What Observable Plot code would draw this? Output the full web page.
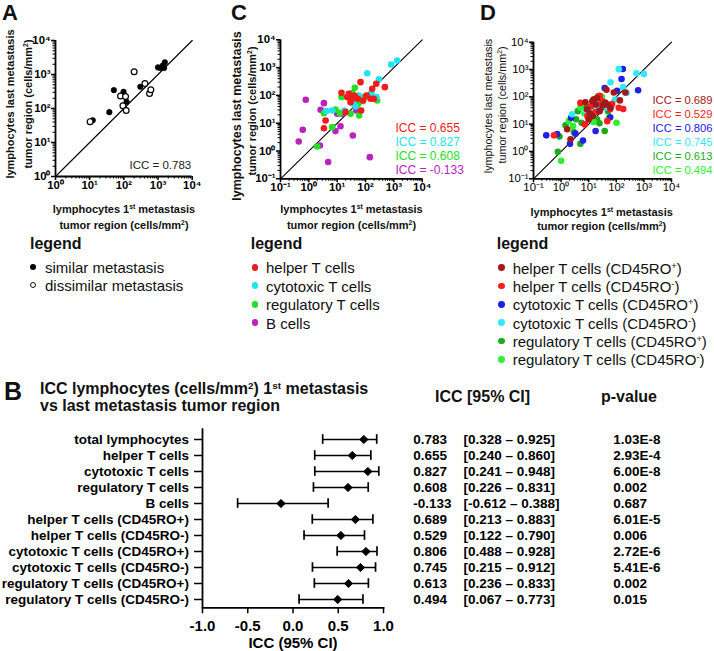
<!DOCTYPE html>
<html><head><meta charset="utf-8">
<script src="https://cdn.jsdelivr.net/npm/d3@7"></script>
<script src="https://cdn.jsdelivr.net/npm/@observablehq/plot@0.6"></script>
<style>
body{margin:0;background:#fff;}
#fig{position:relative;width:714px;height:651px;overflow:hidden;font-family:"Liberation Sans",Arial,Helvetica,sans-serif;color:#111;background:#fff;}
.t{position:absolute;white-space:nowrap;line-height:1;}
.p{position:absolute;}
.p svg{overflow:visible;max-width:none;}
.d{position:absolute;border-radius:50%;box-sizing:border-box;}
sup{font-size:0.62em;vertical-align:0.5em;line-height:0;}
</style></head><body><div id="fig"></div>
<script>
// ---------- DATA ----------
// Panel A: total lymphocytes, [1st metastasis, last metastasis] (cells/mm²)
const aSimilar = [[12.3,45],[37.6,78],[51,347],[98,310],[120,158],[303,436],[1000,1620],[1200,1550],[1380,1820],[1585,2290],[1510,1550]];
const aDissimilar = [[10.3,41],[200,1200],[80,232],[112,226],[94,121],[117,87],[414,540],[565,277],[617,355]];
const ticksA = [1, 10, 100, 1000, 10000];
const iccA = "ICC = 0.783";

// Panel C
const cHelper = [[14.2,124],[22.5,87],[25.8,114],[29.6,57],[33.8,75.5],[40.9,99.5],[53.6,75.5],[66.6,300],[70.3,28.7],[108,99.5],[150,75.5],[197,75.5],[172,173],[238,261],[481,198],[19.7,25],[3.4,6.6],[3.9,12.5],[82.7,65.8]];
const cCyto = [[805,1300],[1310,1800],[115,630],[296,381],[163,121],[6.7,28.7],[18.2,28.7],[58,99.5],[44.4,40],[4.2,27.2],[244,87],[36.7,50]];
const cReg = [[3.4,23],[6.7,7.2],[8.7,31.2],[29.6,21.8],[33.8,121],[48,65.8],[59.7,19],[76.3,62.2],[92,87],[258,65.8],[1.97,1.46],[42,187],[14.2,87],[12.4,23],[53.6,47.2],[25.8,87]];
const cB = [[0.78,69.5],[3.4,52.7],[2.6,30.3],[0.61,5.8],[0.44,2.2],[2.45,1.58],[4.8,0.40],[8.7,5.2],[13.1,7.8],[10,21.8],[15,21.8],[35.7,3.6],[46.9,28.7],[142,0.6],[11.5,23]];
const ticksCD = [0.1, 1, 10, 100, 1000, 10000];
const iccC = ["ICC = 0.655", "ICC = 0.827", "ICC = 0.608", "ICC = -0.133"];
const colorsC = ["#ee1c1c", "#22e2f2", "#22e022", "#bb22bb"];

// Panel D
const dHelperPos = [[44,182],[81,145],[214,145],[135,74],[7.6,63],[13.5,69],[18.6,52],[15.5,80],[8.7,35],[10,14.8],[13.5,19.5],[62,40],[47,52],[32,48],[1.66,6.5],[2.2,2.8],[25,30],[20,90],[40,62],[11,25]];
const dHelperNeg = [[123,40],[178,36],[5,60],[7.2,9.8],[47,12.9],[0.55,3.9],[15,80],[22,100],[30,70],[60,35],[12,45],[18,28],[9,20],[25,110],[70,55]];
const dCytoPos = [[173,1050],[155,447],[617,174],[38,210],[107,166],[11.7,32],[2.3,17],[0.29,3.9],[0.72,4.3],[2.1,1.9],[3.3,4.5],[6.2,2.5],[17.8,5.6],[25,40],[14,22],[60,18]];
const dCytoNeg = [[123,1030],[537,726],[1000,690],[62,340],[178,229],[234,138],[2.5,23],[13,35],[20,50],[30,75],[45,40],[16,60],[8,30],[90,80],[35,55]];
const dRegPos = [[0.87,3.5],[1.45,9.1],[2.9,5.1],[5,1.9],[5.5,11.2],[0.76,0.98],[24.5,10.7],[38,5.6],[12,22],[3.5,15],[8,40],[20,15],[50,30],[4,30]];
const dRegNeg = [[1.9,13],[1.0,0.46],[102,11.2],[54,17],[22,104],[2.7,8.5],[30,100],[7,25],[15,12],[70,55],[10,18],[5,40]];
const iccD = ["ICC = 0.689", "ICC = 0.529", "ICC = 0.806", "ICC = 0.745", "ICC = 0.613", "ICC = 0.494"];
const colorsD = ["#a31818", "#ff1e1e", "#2020e6", "#30e8f8", "#1eaa1e", "#30ee30"];

// Panel B
const forestNames = ["total lymphocytes","helper T cells","cytotoxic T cells","regulatory T cells","B cells","helper T cells (CD45RO+)","helper T cells (CD45RO-)","cytotoxic T cells (CD45RO+)","cytotoxic T cells (CD45RO-)","regulatory T cells (CD45RO+)","regulatory T cells (CD45RO-)"];
const forestIcc = [0.783, 0.655, 0.827, 0.608, -0.133, 0.689, 0.529, 0.806, 0.745, 0.613, 0.494];
const forestLo = [0.328, 0.240, 0.241, 0.226, -0.612, 0.213, 0.122, 0.488, 0.215, 0.236, 0.067];
const forestHi = [0.925, 0.860, 0.948, 0.831, 0.388, 0.883, 0.790, 0.928, 0.912, 0.833, 0.773];
const forestP = ["1.03E-8","2.93E-4","6.00E-8","0.002","0.687","6.01E-5","0.006","2.72E-6","5.41E-6","0.002","0.015"];
const iccTicks = [-1, -0.5, 0, 0.5, 1];

// ---------- HELPERS ----------
const FONT = '"Liberation Sans", Arial, Helvetica, sans-serif';
const fig = document.getElementById("fig");
function place(node, left, top) {
  const w = document.createElement("div");
  w.className = "p"; w.style.left = left + "px"; w.style.top = top + "px";
  w.appendChild(node); fig.appendChild(w);
}
function txt(html, x, y, o = {}) {
  const {size = 11, weight = "bold", anchor = "start", rotate = 0, color = "#111"} = o;
  const d = document.createElement("div");
  d.className = "t"; d.innerHTML = html;
  const tx = anchor === "middle" ? "-50%" : anchor === "end" ? "-100%" : "0";
  d.style.left = x + "px"; d.style.top = y + "px";
  d.style.fontSize = size + "px"; d.style.fontWeight = weight; d.style.color = color;
  d.style.transform = `translate(${tx},-50%)` + (rotate ? ` rotate(${rotate}deg)` : "");
  fig.appendChild(d);
}
function dotKey(x, y, color, r = 3.3, hollow = false) {
  const d = document.createElement("div");
  d.className = "d";
  d.style.left = (x - r) + "px"; d.style.top = (y - r) + "px";
  d.style.width = 2 * r + "px"; d.style.height = 2 * r + "px";
  if (hollow) { d.style.background = "#fff"; d.style.border = "1.2px solid #111"; }
  else d.style.background = color;
  fig.appendChild(d);
}
const supMap = {"-": "⁻", "0": "⁰", "1": "¹", "2": "²", "3": "³", "4": "⁴"};
const pow10 = d => "10" + String(Math.round(Math.log10(d))).split("").map(c => supMap[c]).join("");

function scatter({groups, ticks, width, height, ml, mr, mt, mb, weight, labels}) {
  const dom = [ticks[0], ticks[ticks.length - 1]];
  const minors = ticks.slice(0, -1).flatMap(t => [2,3,4,5,6,7,8,9].map(k => k * t));
  return Plot.plot({
    width, height, marginLeft: ml, marginRight: mr, marginTop: mt, marginBottom: mb,
    x: {type: "log", domain: dom}, y: {type: "log", domain: dom},
    style: {fontFamily: FONT, fontSize: "11.3px", fontWeight: weight, color: "#000", background: "transparent", overflow: "visible"},
    marks: [
      Plot.line(dom, {x: d => d, y: d => d, stroke: "#000", strokeWidth: 1.1}),
      ...groups.map(g => Plot.dot(g.data, {x: d => d[0], y: d => d[1], r: g.r, fill: g.fill, stroke: g.stroke, strokeWidth: g.sw || 0})),
      Plot.ruleX([dom[0]], {strokeWidth: 1.8}),
      Plot.ruleY([dom[0]], {strokeWidth: 1.8}),
      Plot.axisX(minors, {tickSize: 2.5, tickFormat: () => "", strokeWidth: 1, label: null}),
      Plot.axisY(minors, {tickSize: 2.5, tickFormat: () => "", strokeWidth: 1, label: null}),
      Plot.axisX(ticks, {tickSize: 4, tickPadding: 0, tickFormat: pow10, strokeWidth: 1.5, label: null}),
      Plot.axisY(ticks, {tickSize: 4, tickPadding: 1, tickFormat: pow10, strokeWidth: 1.5, label: null}),
      ...labels.map(l => Plot.text([l.text], {frameAnchor: l.frameAnchor, textAnchor: l.textAnchor, lineAnchor: "middle",
        dx: l.dx, dy: l.dy, fill: l.color, fontSize: l.size, fontWeight: "normal"}))
    ]
  });
}

// ---------- PANEL A ----------
place(scatter({
  groups: [
    {data: aSimilar, r: 2.8, fill: "#000", stroke: "#000", sw: 0.5},
    {data: aDissimilar, r: 2.9, fill: "#fff", stroke: "#000", sw: 1.2}
  ],
  ticks: ticksA, width: 230, height: 200, ml: 55, mr: 38.3, mt: 40, mb: 24, weight: "bold",
  labels: [{text: iccA, frameAnchor: "bottom-right", textAnchor: "end", dx: -1, dy: -11, color: "#222", size: 11.5}]
}), 0, 0);

// ---------- PANEL C ----------
place(scatter({
  groups: [
    {data: cB, r: 3.3, fill: colorsC[3]},
    {data: cReg, r: 3.3, fill: colorsC[2]},
    {data: cCyto, r: 3.3, fill: colorsC[1]},
    {data: cHelper, r: 3.3, fill: colorsC[0]}
  ],
  ticks: ticksCD, width: 230, height: 205, ml: 50, mr: 38.3, mt: 39.3, mb: 26.7, weight: "bold",
  labels: iccC.map((t, i) => ({text: t, frameAnchor: "top-left", textAnchor: "start", dx: 115, dy: 88 + 14 * i, color: colorsC[i], size: 12}))
}), 230, 0);

// ---------- PANEL D ----------
place(scatter({
  groups: [
    {data: dRegPos, r: 3.3, fill: colorsD[4]},
    {data: dRegNeg, r: 3.3, fill: colorsD[5]},
    {data: dCytoPos, r: 3.3, fill: colorsD[2]},
    {data: dCytoNeg, r: 3.3, fill: colorsD[3]},
    {data: dHelperNeg, r: 3.3, fill: colorsD[1]},
    {data: dHelperPos, r: 3.3, fill: colorsD[0]}
  ],
  ticks: ticksCD, width: 254, height: 205, ml: 73, mr: 43, mt: 41.7, mb: 26.7, weight: "normal",
  labels: iccD.map((t, i) => ({text: t, frameAnchor: "top-left", textAnchor: "start", dx: 119, dy: 58.3 + 13.9 * i, color: colorsD[i], size: 11.2}))
}), 460, 0);

// ---------- PANEL B (forest) ----------
const forestRows = forestNames.map((name, i) => ({name, icc: forestIcc[i], lo: forestLo[i], hi: forestHi[i], p: forestP[i]}));
place(Plot.plot({
  width: 714, height: 231, marginLeft: 202, marginRight: 331, marginTop: 8.3, marginBottom: 43.7,
  x: {domain: [iccTicks[0], iccTicks[iccTicks.length - 1]]},
  y: {type: "band", domain: forestNames, range: [8.3, 189.3], padding: 0},
  style: {fontFamily: FONT, fontSize: "13.5px", fontWeight: "bold", color: "#000", background: "transparent", overflow: "visible"},
  marks: [
    Plot.ruleX([iccTicks[0]], {strokeWidth: 1.8}),
    Plot.frame({anchor: "bottom", strokeWidth: 1.8}),
    Plot.axisY({tickSize: 8, tickPadding: 5.5, strokeWidth: 1.5, label: null}),
    Plot.axisX(iccTicks, {tickSize: 6, tickPadding: 6.5, tickFormat: d => d.toFixed(1), fontSize: 15, strokeWidth: 1.5, label: null}),
    Plot.ruleY(forestRows, {y: "name", x1: "lo", x2: "hi", strokeWidth: 1.7}),
    Plot.tickX(forestRows, {x: "lo", y: "name", insetTop: 3.2, insetBottom: 3.2, strokeWidth: 1.7}),
    Plot.tickX(forestRows, {x: "hi", y: "name", insetTop: 3.2, insetBottom: 3.2, strokeWidth: 1.7}),
    Plot.dot(forestRows, {x: "icc", y: "name", symbol: "diamond2", r: 3.7, fill: "#000", stroke: "#000", strokeWidth: 1}),
    Plot.text(["ICC (95% CI)"], {frameAnchor: "bottom", lineAnchor: "middle", dy: 35.2, fontSize: 15}),
    Plot.text(forestRows, {y: "name", text: d => d.icc.toFixed(3), frameAnchor: "right", textAnchor: "start", dx: 29.7}),
    Plot.text(forestRows, {y: "name", text: d => `[${d.lo.toFixed(3)} – ${d.hi.toFixed(3)}]`, frameAnchor: "right", textAnchor: "start", dx: 80}),
    Plot.text(forestRows, {y: "name", text: d => d.p, frameAnchor: "right", textAnchor: "start", dx: 229.7})
  ]
}), 0, 420);

// ---------- TEXT ----------
txt("A", 2, 12.8, {size: 22});
txt("C", 231, 12.8, {size: 22});
txt("D", 480, 12.8, {size: 22});
txt("B", 4, 391, {size: 25});

const xt1 = "lymphocytes 1<sup>st</sup> metastasis";
const xt2 = "tumor region (cells/mm<sup>2</sup>)";
const yt1 = "lymphocytes last metastasis";
// A
txt(xt1, 124, 209.4, {anchor: "middle"});
txt(xt2, 124, 225, {anchor: "middle"});
txt(yt1, 9.5, 104, {anchor: "middle", rotate: -90});
txt(xt2, 27.5, 104, {anchor: "middle", rotate: -90});
// C
txt(xt1, 351.5, 209.4, {anchor: "middle"});
txt(xt2, 351.5, 225, {anchor: "middle"});
txt(yt1, 237, 116, {anchor: "middle", rotate: -90, size: 12.5});
txt(xt2, 251.5, 111, {anchor: "middle", rotate: -90});
// D
txt(xt1, 601.7, 211.5, {anchor: "middle"});
txt(xt2, 601.7, 226, {anchor: "middle"});
txt(yt1, 488, 106, {anchor: "middle", rotate: -90, size: 10.8, weight: "normal"});
txt(xt2, 502, 105, {anchor: "middle", rotate: -90, size: 10.8, weight: "normal"});

// Legends
txt("legend", 30, 243.5, {size: 16});
dotKey(33.3, 266.7, "#000", 3);
dotKey(33.3, 285, "#000", 3, true);
txt("similar metastasis", 45, 266.5, {size: 15, weight: "normal"});
txt("dissimilar metastasis", 45, 284.8, {size: 15, weight: "normal"});

const legendC = ["helper T cells", "cytotoxic T cells", "regulatory T cells", "B cells"];
txt("legend", 250.7, 243.5, {size: 16});
legendC.forEach((s, i) => {
  const y = 267.3 + 18.45 * i;
  dotKey(255, y, colorsC[i], 3.4);
  txt(s, 266, y, {size: 15, weight: "normal"});
});

const legendD = ["helper T cells (CD45RO<sup>+</sup>)", "helper T cells (CD45RO<sup>-</sup>)", "cytotoxic T cells (CD45RO<sup>+</sup>)", "cytotoxic T cells (CD45RO<sup>-</sup>)", "regulatory T cells (CD45RO<sup>+</sup>)", "regulatory T cells (CD45RO<sup>-</sup>)"];
txt("legend", 496.7, 244, {size: 16});
legendD.forEach((s, i) => {
  const y = 267.7 + 18.3 * i;
  dotKey(501.7, y, colorsD[i], 3.4);
  txt(s, 512.7, y, {size: 15, weight: "normal"});
});

// Panel B title + table headers
txt("ICC lymphocytes (cells/mm<sup>2</sup>) 1<sup>st</sup> metastasis", 40, 389.3, {size: 16});
txt("vs last metastasis tumor region", 40, 406, {size: 16});
txt("ICC [95% CI]", 435, 396.5, {size: 16});
txt("p-value", 601, 396.5, {size: 16});
</script></body></html>
